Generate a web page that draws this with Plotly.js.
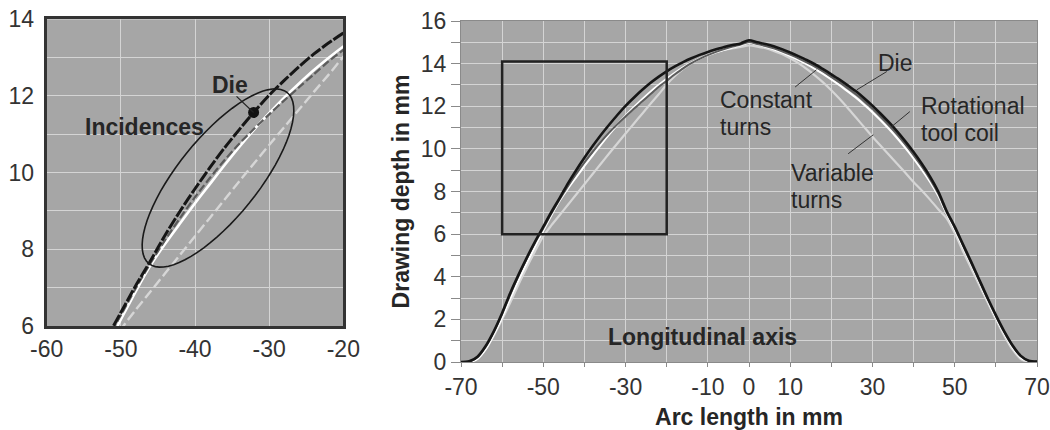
<!DOCTYPE html>
<html>
<head>
<meta charset="utf-8">
<script src="https://cdn.plot.ly/plotly-3.0.1.min.js"></script>
<style>html,body{margin:0;padding:0;background:#fff;}#chart{width:1050px;height:430px;}</style>
</head>
<body>
<div id="chart"></div>
<script>
// ---- data (arc length in mm, drawing depth in mm) ----
const arcLength = [-70,-68,-66,-64,-62,-60,-58,-56,-54,-52,-50,-48,-46,-44,-42,-40,-38,-36,-34,-32,-30,-28,-26,-24,-22,-20,-18,-16,-14,-12,-10,-8,-6,-4,-2,0,2,4,6,8,10,12,14,16,18,20,22,24,26,28,30,32,34,36,38,40,42,44,46,48,50,52,54,56,58,60,62,64,66,68,70];

const dieDepth = [0,0.03,0.25,0.75,1.45,2.3,3.25,4.1,4.9,5.65,6.35,7.05,7.7,8.38,9.0,9.58,10.13,10.65,11.13,11.59,12.02,12.4,12.76,13.09,13.38,13.64,13.87,14.07,14.25,14.41,14.55,14.67,14.78,14.87,14.95,15.1,15.0,14.92,14.82,14.68,14.52,14.35,14.17,13.97,13.74,13.5,13.25,12.98,12.7,12.38,12.03,11.65,11.25,10.82,10.35,9.85,9.3,8.7,8.0,7.1,6.35,5.52,4.7,3.85,3.0,2.2,1.45,0.8,0.3,0.06,0.02];

const coilDepth = [0,0.02,0.22,0.72,1.42,2.25,3.18,4.05,4.85,5.6,6.28,6.98,7.64,8.25,8.82,9.36,9.86,10.33,10.76,11.15,11.52,11.88,12.22,12.56,12.9,13.2,13.5,13.78,14.02,14.22,14.4,14.55,14.68,14.8,14.9,15.02,14.92,14.83,14.72,14.58,14.42,14.25,14.06,13.86,13.63,13.38,13.12,12.85,12.56,12.24,11.89,11.51,11.11,10.68,10.21,9.71,9.17,8.58,7.9,7.05,6.3,5.47,4.64,3.8,2.96,2.17,1.42,0.77,0.28,0.05,0.02];

const constantDepth = [0,0,0.15,0.6,1.3,2.1,3.0,3.85,4.65,5.42,6.17,6.9,7.58,8.15,8.68,9.2,9.7,10.2,10.68,11.13,11.55,11.95,12.32,12.67,12.99,13.29,13.57,13.82,14.04,14.23,14.39,14.53,14.65,14.76,14.86,14.98,14.9,14.8,14.68,14.53,14.36,14.18,13.98,13.76,13.52,13.26,12.99,12.7,12.4,12.07,11.72,11.34,10.94,10.51,10.05,9.56,9.03,8.46,7.8,6.98,6.22,5.4,4.58,3.74,2.9,2.1,1.35,0.7,0.22,0.03,0];

const variableDepth = [0,0,0.15,0.6,1.25,2.0,2.8,3.65,4.45,5.2,5.9,6.42,6.9,7.38,7.86,8.34,8.82,9.3,9.78,10.25,10.72,11.18,11.64,12.1,12.55,13.02,13.42,13.75,14.02,14.24,14.42,14.55,14.65,14.72,14.78,14.85,14.8,14.72,14.6,14.45,14.25,14.02,13.75,13.45,13.12,12.75,12.35,11.92,11.47,11.02,10.57,10.15,9.72,9.3,8.88,8.45,8.05,7.62,7.17,6.75,6.05,5.2,4.4,3.6,2.8,2.0,1.25,0.6,0.15,0,0];

// tick labels
const mainXTicks = [-70,-60,-50,-40,-30,-20,-10,0,10,20,30,40,50,60,70];
const mainXLabels = ['-70','','-50','','-30','','-10','0','10','','30','','50','','70'];
const mainYTicks = [0,1,2,3,4,5,6,7,8,9,10,11,12,13,14,15,16];
const mainYLabels = ['0','','2','','4','','6','','8','','10','','12','','14','','16'];
const zoomXTicks = [-60,-50,-40,-30,-20];
const zoomXLabels = ['-60','-50','-40','-30','-20'];
const zoomYTicks = [6,7,8,9,10,11,12,13,14];
const zoomYLabels = ['6','','8','','10','','12','','14'];

// detail window (drawn as rectangle in main chart)
const zoomWindowX = [-60, -20];
const zoomWindowY = [6, 14.1];

// marked die point in the detail view
const dieMarkX = [-32.1];
const dieMarkY = [11.57];

// "Incidences" ellipse (centre and half-axis vectors, data units)
const ellipseCenter = [-36.9, 9.86];
const ellipseAxisA = [9.33, 2.23];
const ellipseAxisB = [-4.19, 0.66];

const series = [
  {name:'Variable turns', y: variableDepth, color:'#d6d6d6', w:2.2, wz:2.4, dash:'10px,4px'},
  {name:'Constant turns', y: constantDepth, color:'#ffffff', w:2.2, wz:2.6, dash:'solid'},
  {name:'Rotational tool coil', y: coilDepth, color:'#5c5c5c', w:2, wz:2.2, dash:'8px,3px'},
  {name:'Die', y: dieDepth, color:'#161616', w:2.6, wz:3, dash:'12px,2px'}
];

const traces = [];
series.forEach(s => {
  traces.push({x: arcLength, y: s.y, xaxis:'x2', yaxis:'y2', type:'scatter', mode:'lines', name:s.name,
    line:{color:s.color, width:s.w, shape:'spline', smoothing:0.8}, hoverinfo:'skip'});
});
series.forEach(s => {
  traces.push({x: arcLength, y: s.y, xaxis:'x', yaxis:'y', type:'scatter', mode:'lines', name:s.name + ' (detail)',
    line:{color:s.color, width:s.wz, shape:'spline', smoothing:0.8, dash:s.dash}, hoverinfo:'skip'});
});
traces.push({x: dieMarkX, y: dieMarkY, xaxis:'x', yaxis:'y', type:'scatter', mode:'markers',
  marker:{size:11, color:'#111'}, hoverinfo:'skip', name:'Die point'});

// ellipse path
let ell = [];
for (let i = 0; i <= 72; i++) {
  const t = i / 72 * 2 * Math.PI;
  const ex = ellipseCenter[0] + ellipseAxisA[0]*Math.cos(t) + ellipseAxisB[0]*Math.sin(t);
  const ey = ellipseCenter[1] + ellipseAxisA[1]*Math.cos(t) + ellipseAxisB[1]*Math.sin(t);
  ell.push((i === 0 ? 'M ' : 'L ') + ex.toFixed(3) + ',' + ey.toFixed(3));
}
const ellipsePath = ell.join(' ') + ' Z';

const textFont = {family:'Liberation Sans, Arial, sans-serif', size:23, color:'#262626'};
const boldFont = {family:'Liberation Sans, Arial, sans-serif', size:23, color:'#262626', weight:'bold'};

const layout = {
  width:1050, height:430,
  margin:{l:0, r:0, t:0, b:0},
  paper_bgcolor:'#ffffff', plot_bgcolor:'#a6a6a6',
  showlegend:false,
  font:{family:'Liberation Sans, Arial, sans-serif', size:23, color:'#333'},
  xaxis:{domain:[46.7/1050, 343.3/1050], range:[-60,-20], anchor:'y', tickvals:zoomXTicks, ticktext:zoomXLabels,
    showgrid:true, gridcolor:'#d4d4d4', gridwidth:1, zeroline:false, showline:true, mirror:true, linecolor:'#333', linewidth:3,
    ticks:'', automargin:false, tickfont:{size:23, color:'#333'}},
  yaxis:{domain:[1-326/430, 1-19.3/430], range:[6,14], anchor:'x', tickvals:zoomYTicks, ticktext:zoomYLabels,
    showgrid:true, gridcolor:'#d4d4d4', gridwidth:1, zeroline:false, showline:true, mirror:true, linecolor:'#333', linewidth:3,
    ticks:'outside', ticklen:5, tickcolor:'rgba(0,0,0,0)', automargin:false, tickfont:{size:23, color:'#333'}},
  xaxis2:{domain:[461/1050, 1037/1050], range:[-70,70], anchor:'y2', tickvals:mainXTicks, ticktext:mainXLabels,
    showgrid:true, gridcolor:'#d4d4d4', gridwidth:1, zeroline:false, showline:true, mirror:true, linecolor:'#8a8a8a', linewidth:1,
    ticks:'outside', ticklen:4, tickcolor:'#8a8a8a', automargin:false, tickfont:{size:23, color:'#333'},
    title:{text:'<b>Arc length in mm</b>', font:{size:23, color:'#262626'}, standoff:16}},
  yaxis2:{domain:[1-362/430, 1-21/430], range:[0,16], anchor:'x2', tickvals:mainYTicks, ticktext:mainYLabels,
    showgrid:true, gridcolor:'#d4d4d4', gridwidth:1, zeroline:false, showline:true, mirror:true, linecolor:'#8a8a8a', linewidth:1,
    ticks:'outside', ticklen:9, tickcolor:'#8a8a8a', automargin:false, tickfont:{size:23, color:'#333'},
    title:{text:'<b>Drawing depth in mm</b>', font:{size:23, color:'#262626'}, standoff:4}},
  shapes:[
    {type:'rect', xref:'x2', yref:'y2', x0:zoomWindowX[0], x1:zoomWindowX[1], y0:zoomWindowY[0], y1:zoomWindowY[1],
      line:{color:'#222', width:2.5}, fillcolor:'rgba(0,0,0,0)'},
    {type:'path', xref:'x', yref:'y', path:ellipsePath, line:{color:'#1a1a1a', width:1.6}},
    // leader lines
    {type:'line', xref:'x', yref:'y', x0:-34.4, y0:11.99, x1:-32.1, y1:11.57, line:{color:'#222', width:1.2}},
    {type:'line', xref:'x2', yref:'y2', x0:33.5, y0:13.63, x1:26.2, y1:12.77, line:{color:'#333', width:1}},
    {type:'line', xref:'x2', yref:'y2', x0:11.2, y0:12.9, x1:16.4, y1:13.71, line:{color:'#333', width:1}},
    {type:'line', xref:'x2', yref:'y2', x0:39.1, y0:11.75, x1:34.7, y1:11.05, line:{color:'#333', width:1}},
    {type:'line', xref:'x2', yref:'y2', x0:24.1, y0:9.77, x1:30.2, y1:10.66, line:{color:'#333', width:1}}
  ],
  annotations:[
    {xref:'x', yref:'y', x:-35.3, y:12.29, text:'<b>Die</b>', showarrow:false, font:boldFont},
    {xref:'x', yref:'y', x:-46.75, y:11.2, text:'<b>Incidences</b>', showarrow:false, font:boldFont},
    {xref:'x2', yref:'y2', x:35.5, y:14.02, text:'Die', showarrow:false, font:textFont},
    {xref:'x2', yref:'y2', x:-7.46, y:12.3, text:'Constant', showarrow:false, xanchor:'left', font:textFont},
    {xref:'x2', yref:'y2', x:-7.46, y:11.05, text:'turns', showarrow:false, xanchor:'left', font:textFont},
    {xref:'x2', yref:'y2', x:41.4, y:11.99, text:'Rotational', showarrow:false, xanchor:'left', font:textFont},
    {xref:'x2', yref:'y2', x:41.4, y:10.74, text:'tool coil', showarrow:false, xanchor:'left', font:textFont},
    {xref:'x2', yref:'y2', x:9.8, y:8.86, text:'Variable', showarrow:false, xanchor:'left', font:textFont},
    {xref:'x2', yref:'y2', x:9.8, y:7.6, text:'turns', showarrow:false, xanchor:'left', font:textFont},
    {xref:'x2', yref:'y2', x:-11.2, y:1.19, text:'<b>Longitudinal axis</b>', showarrow:false, font:boldFont}
  ]
};

Plotly.newPlot('chart', traces, layout, {staticPlot:true, displayModeBar:false});
</script>
</body>
</html>
